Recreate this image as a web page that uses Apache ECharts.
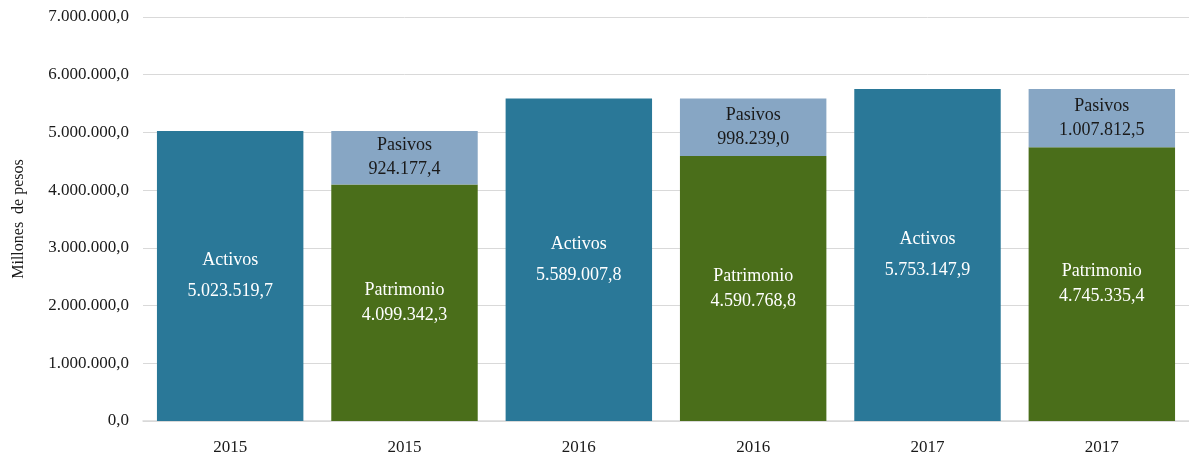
<!DOCTYPE html>
<html>
<head>
<meta charset="utf-8">
<script src="https://cdn.jsdelivr.net/npm/echarts@6/dist/echarts.min.js"></script>
<style>
  html, body { margin: 0; padding: 0; background: #fff; }
  #chart { width: 1189px; height: 461px; }
</style>
</head>
<body>
<div id="chart"></div>
<script>
var categories = ['2015', '2015', '2016', '2016', '2017', '2017'];
var activos = [5023519.7, '-', 5589007.8, '-', 5753147.9, '-'];
var patrimonio = ['-', 4099342.3, '-', 4590768.8, '-', 4745335.4];
var pasivos = ['-', 924177.4, '-', 998239.0, '-', 1007812.5];

// 1234567.8 -> "1.234.567,8"
function fmt(v) {
    var parts = Number(v).toFixed(1).split('.');
    return parts[0].replace(/\B(?=(\d{3})+(?!\d))/g, '.') + ',' + parts[1];
}

var font = '"Liberation Serif", "Times New Roman", serif';

function barLabel(color, lh) {
    return {
        show: true,
        position: 'inside',
        color: color,
        fontFamily: font,
        fontSize: 18,
        lineHeight: lh,
        formatter: function (p) {
            return p.seriesName + '\n' + fmt(p.value);
        }
    };
}

var chart = echarts.init(document.getElementById('chart'));
var option = {
    animation: false,
    grid: { left: 143, right: -6, top: 17, bottom: 40 },
    xAxis: {
        type: 'category',
        data: categories,
        axisTick: { show: false },
        axisLine: { lineStyle: { color: '#d9d9d9', width: 1.5 } },
        axisLabel: { color: '#1a1a1a', fontFamily: font, fontSize: 17, margin: 18 }
    },
    yAxis: {
        type: 'value',
        min: 0,
        max: 7000000,
        interval: 1000000,
        name: 'Millones  de pesos',
        nameLocation: 'middle',
        nameGap: 116,
        nameTextStyle: { color: '#1a1a1a', fontFamily: font, fontSize: 16 },
        axisLabel: {
            color: '#1a1a1a', fontFamily: font, fontSize: 17, margin: 14,
            formatter: fmt
        },
        splitLine: { lineStyle: { color: '#d9d9d9', width: 1 } }
    },
    series: [
        {
            name: 'Activos', type: 'bar', stack: 'a', data: activos,
            barCategoryGap: '16%',
            itemStyle: { color: '#2a7898' },
            label: barLabel('#ffffff', 31)
        },
        {
            name: 'Patrimonio', type: 'bar', stack: 'a', data: patrimonio,
            itemStyle: { color: '#4a6e1a' },
            label: barLabel('#ffffff', 25)
        },
        {
            name: 'Pasivos', type: 'bar', stack: 'a', data: pasivos,
            itemStyle: { color: '#87a6c4' },
            label: barLabel('#1a1a1a', 24)
        }
    ]
};
chart.setOption(option);
</script>
</body>
</html>
